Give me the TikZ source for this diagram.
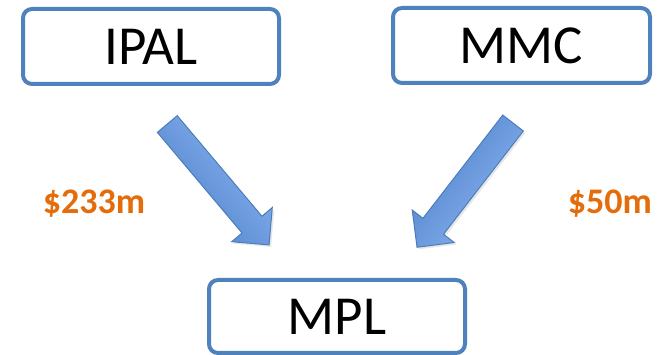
\documentclass[tikz,border=0pt]{standalone}
\usepackage{fontspec}
\setmainfont{Carlito}
\usetikzlibrary{shapes.arrows,shadows}
\definecolor{boxblue}{HTML}{4F81BD}
\definecolor{arrowedge}{HTML}{4A7EBB}
\definecolor{arrowlight}{HTML}{8DB6F2}
\definecolor{arrowdark}{HTML}{4D7FC9}
\definecolor{amount}{HTML}{E46C0A}
\tikzset{
  entity/.style={draw=boxblue, line width=4pt, rounded corners=9pt, fill=white,
    inner sep=0pt, font=\fontsize{55}{60}\selectfont},
  flow/.style={single arrow, draw=arrowedge, line width=1pt, inner xsep=0pt, inner ysep=12.5pt,
    single arrow head extend=13.5pt, single arrow head indent=0pt,
    top color=arrowlight, bottom color=arrowdark,
    drop shadow={opacity=0.2, shadow xshift=2pt, shadow yshift=-2pt}},
  amt/.style={text=amount, font=\fontsize{36}{40}\selectfont\bfseries}
}
\begin{document}
\begin{tikzpicture}[x=1pt,y=1pt]
\useasboundingbox (0,0) rectangle (662,355);
\node[entity, minimum width=256pt, minimum height=75pt] (ipal) at (151,308.5) {IPAL};
\node[entity, minimum width=257pt, minimum height=75pt] (mmc) at (521.5,309.5) {MMC};
\node[entity, minimum width=256pt, minimum height=73pt] (mpl) at (337,38.5) {MPL};
\node[flow, minimum height=158pt, rotate=-49.9, shading angle=-49.9] (a1) at (214,175.5) {};
\node[flow, minimum height=157pt, rotate=-127.7, shading angle=-127.7] (a2) at (469,175) {};
\node[amt] (l1) at (94,151) {\$233m};
\node[amt] (l2) at (610,151) {\$50m};
\end{tikzpicture}
\end{document}
